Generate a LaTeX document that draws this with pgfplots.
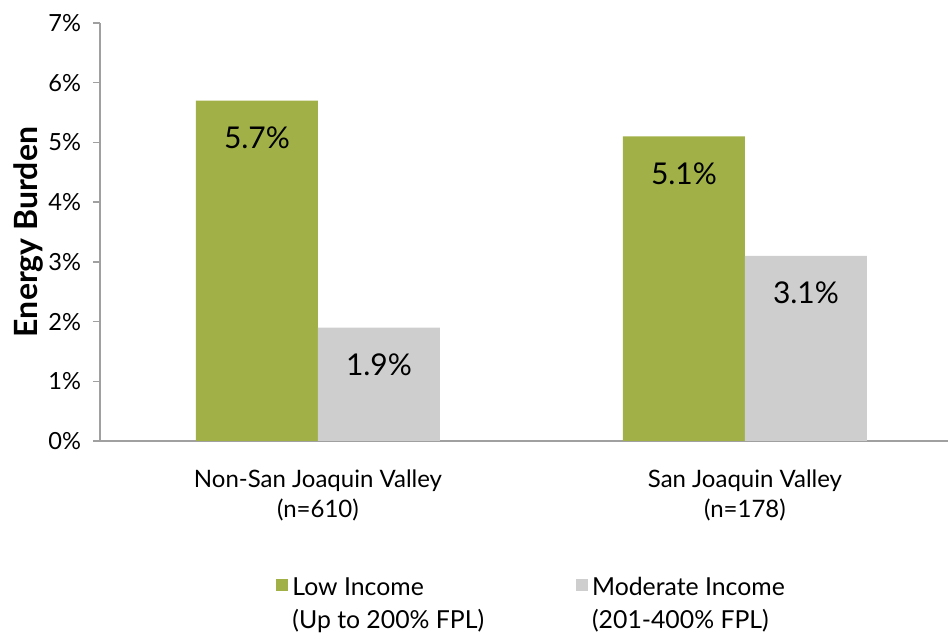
\documentclass[border=0pt]{standalone}
\usepackage{fontspec}
\setmainfont{Lato}
\usepackage{pgfplots}
\pgfplotsset{compat=1.18}
\definecolor{lowgreen}{RGB}{161,177,71}
\definecolor{modgray}{RGB}{206,206,206}
\definecolor{axisgray}{RGB}{160,160,160}
\begin{document}
\begin{tikzpicture}
\begin{axis}[
  scale only axis,
  width=424pt, height=209pt,
  xmin=-0.5105, xmax=1.4755,
  ymin=0, ymax=7,
  ybar=0pt, bar width=61pt,
  axis lines*=left,
  x axis line style={draw=axisgray, line width=1pt},
  y axis line style={draw=axisgray, line width=0.7pt},
  xtick={0,1},
  xticklabels={{Non-San Joaquin Valley\\(n=610)},{San Joaquin Valley\\(n=178)}},
  xtick style={draw=none},
  xticklabel style={align=center, font=\fontsize{12}{15}\selectfont, yshift=-7.5pt},
  ytick={0,1,2,3,4,5,6,7},
  yticklabels={0\%,1\%,2\%,3\%,4\%,5\%,6\%,7\%},
  ytick style={draw=axisgray, line width=0.7pt},
  tick align=outside,
  major tick length=3.5pt,
  yticklabel style={font=\fontsize{11.8}{14}\selectfont, xshift=-2.5pt},
  ylabel={Energy Burden},
  ylabel style={font=\fontsize{16}{18}\bfseries, at={(axis description cs:-0.0849,0.5)}, anchor=center},
  nodes near coords={\pgfmathprintnumber[fixed,precision=1,fixed zerofill,assume math mode=true]{\pgfplotspointmeta}\%},
  every node near coord/.append style={anchor=center, yshift=-18.5pt, font=\fontsize{15}{17}\selectfont, text=black},
  legend style={draw=none, legend columns=2, at={(axis description cs:0.21,0)}, anchor=north west, yshift=-64pt, xshift=-4pt,
    font=\fontsize{12.4}{16.5}\selectfont, cells={align=left, anchor=west},
    /tikz/every even column/.append style={column sep=44pt}},
  legend image code/.code={\fill[#1] (0pt,7pt) rectangle (6pt,13pt);},
]
\addplot[fill=lowgreen, draw=none] coordinates {(0,5.7) (1,5.1)};
\addplot[fill=modgray, draw=none] coordinates {(0,1.9) (1,3.1)};
\legend{{Low Income\\(Up to 200\% FPL)},{Moderate Income\\(201-400\% FPL)}}
\end{axis}
\pgfresetboundingbox
\path ([shift={(-50pt,-97pt)}]current axis.south west) rectangle ([shift={(0pt,11.5pt)}]current axis.north east);
\end{tikzpicture}
\end{document}
